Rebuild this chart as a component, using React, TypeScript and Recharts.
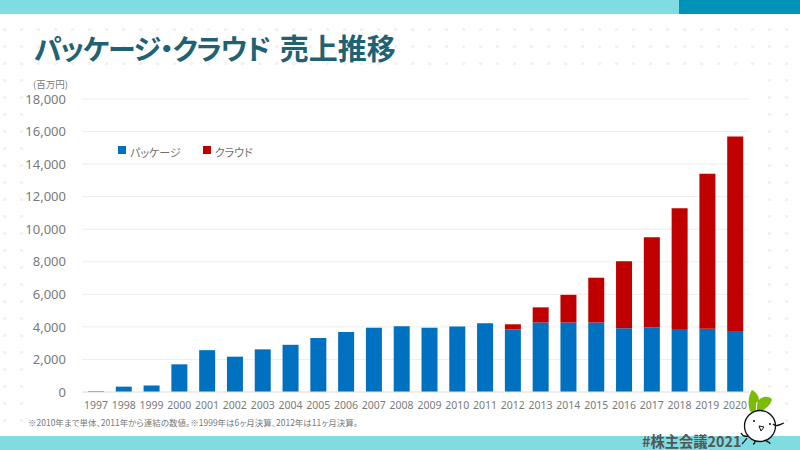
import { BarChart, Bar, XAxis, YAxis, CartesianGrid, Legend } from "recharts";

const years = [
  "1997", "1998", "1999", "2000", "2001", "2002", "2003", "2004",
  "2005", "2006", "2007", "2008", "2009", "2010", "2011", "2012",
  "2013", "2014", "2015", "2016", "2017", "2018", "2019", "2020",
];
const packageSales = [
  50, 330, 400, 1700, 2570, 2170, 2620, 2900,
  3310, 3680, 3950, 4040, 3950, 4020, 4230, 3860,
  4270, 4270, 4270, 3910, 3970, 3870, 3880, 3750,
];
const cloudSales = [
  0, 0, 0, 0, 0, 0, 0, 0,
  0, 0, 0, 0, 0, 0, 0, 300,
  930, 1700, 2750, 4130, 5530, 7420, 9530, 11950,
];
const yTicks = [0, 2000, 4000, 6000, 8000, 10000, 12000, 14000, 16000, 18000];

const data = years.map((year, i) => ({
  year,
  package: packageSales[i],
  cloud: cloudSales[i],
}));

const FONT = "'Noto Sans CJK JP', 'Noto Sans', sans-serif";
const GRAY = "#7a7a7a";
const PALT = { fontFeatureSettings: "'palt'" };

const LegendContent = ({ payload }: any) => (
  <div style={{ display: "flex", fontFamily: FONT, fontSize: 11, color: "#6f6f6f", lineHeight: "16px", whiteSpace: "nowrap", ...PALT }}>
    {(payload || []).map((item: any) => (
      <div key={item.value} style={{ display: "flex", alignItems: "center", marginRight: 22 }}>
        <span style={{ width: 8, height: 8, background: item.color, marginRight: 4, marginTop: -4 }} />
        {item.value}
      </div>
    ))}
  </div>
);

const Mascot = () => (
  <svg width="60" height="60" style={{ position: "absolute", left: 737, top: 388 }} viewBox="0 0 60 60">
    <path d="M13 23 C10 15 12 6 15 2 C19 4 22 8 22 12 C26 8 31 8 35 11 C34 17 28 22 22 24 C18 25 15 25 13 23 Z" fill="#7CBB0A" />
    <path d="M19 24 L20 14" stroke="#fff" strokeWidth="1" fill="none" />
    <circle cx="23" cy="38" r="15.5" fill="#fff" stroke="#111" strokeWidth="1.3" />
    <path d="M36 36 C39 39 42 37 47 35" fill="none" stroke="#111" strokeWidth="1.3" />
    <path d="M11 48 C7 49 5 47 4 45 M10 50 C8 53 6 55 5 56 M29 53 C31 54 33 54 33 56 M18 53 C18 55 17 56 16 56" fill="none" stroke="#111" strokeWidth="1.3" />
    <circle cx="17" cy="33" r="1" fill="#111" />
    <circle cx="33" cy="36" r="1" fill="#111" />
    <path d="M22 38 L27 39 L24 43 Z" fill="#fff" stroke="#111" strokeWidth="1" />
  </svg>
);

const App = () => {
  return (
    <div
      style={{
        position: "fixed",
        left: 0,
        top: 0,
        width: 800,
        height: 450,
        overflow: "hidden",
        background: "#fff",
        backgroundImage:
          "radial-gradient(circle at 8.5px 8.5px, #f1f1f1 1.3px, transparent 1.8px), radial-gradient(circle at 0px 0px, #f1f1f1 1.3px, transparent 1.8px)",
        backgroundSize: "17px 17px",
        backgroundPosition: "-4px 4px, 5px 12px",
        fontFamily: FONT,
      }}
    >
      <div style={{ position: "absolute", left: 30, top: 68, width: 724, height: 364, background: "#fff" }} />
      <div style={{ position: "absolute", left: 0, top: 0, width: 800, height: 14, background: "#7FDDE1" }} />
      <div style={{ position: "absolute", left: 679, top: 0, width: 121, height: 14, background: "#0093B8" }} />
      <div style={{ position: "absolute", left: 0, top: 436, width: 800, height: 14, background: "#7FDDE1" }} />

      <div style={{ position: "absolute", left: 34, top: 25, fontSize: 29, lineHeight: "44px", fontWeight: 700, color: "#1F6273", whiteSpace: "nowrap", ...PALT }}>
        <span style={{ fontSize: 28, letterSpacing: -1.2 }}>パッケージ・クラウド</span>
        <span style={{ marginLeft: 10 }}>売上推移</span>
      </div>
      <div style={{ position: "absolute", left: 33, top: 78, fontSize: 9.5, lineHeight: "13px", color: GRAY, whiteSpace: "nowrap" }}>
        (百万円)
      </div>

      <div style={{ position: "absolute", left: 0, top: 0 }}>
        <BarChart
          width={800}
          height={450}
          data={data}
          barSize={16}
          margin={{ top: 99, right: 51, bottom: 28, left: 22 }}
        >
          <CartesianGrid vertical={false} stroke="#eeeeee" />
          <XAxis
            dataKey="year"
            height={30}
            interval={0}
            tickLine={false}
            axisLine={{ stroke: "#e4e4e4" }}
            tick={{ fontSize: 10.5, fill: GRAY, fontFamily: "'Noto Sans', sans-serif" }}
            tickMargin={4}
          />
          <YAxis
            width={60}
            domain={[0, 18000]}
            ticks={yTicks}
            interval={0}
            tickLine={false}
            axisLine={false}
            tickFormatter={(v: number) => v.toLocaleString("en-US")}
            tick={{ fontSize: 13, fill: GRAY, fontFamily: "'Noto Sans', sans-serif" }}
            tickMargin={10}
          />
          <Legend
            content={<LegendContent />}
            itemSorter={null}
            wrapperStyle={{ position: "absolute", left: 118, top: 144, width: "auto", height: 0 }}
          />
          <Bar dataKey="package" name="パッケージ" stackId="sales" fill="#0070C0" isAnimationActive={false} />
          <Bar dataKey="cloud" name="クラウド" stackId="sales" fill="#C00000" isAnimationActive={false} />
        </BarChart>
      </div>

      <div style={{ position: "absolute", left: 28, top: 415, fontSize: 8.5, lineHeight: "14px", color: GRAY, whiteSpace: "nowrap", ...PALT }}>
        ※2010年まで単体、2011年から連結の数値。※1999年は6ヶ月決算、2012年は11ヶ月決算。
      </div>
      <div style={{ position: "absolute", left: 642, top: 431, fontSize: 14.3, lineHeight: "20px", fontWeight: 700, color: "#555", whiteSpace: "nowrap" }}>
        #株主会議2021
      </div>
      <Mascot />
    </div>
  );
};

export default App;
